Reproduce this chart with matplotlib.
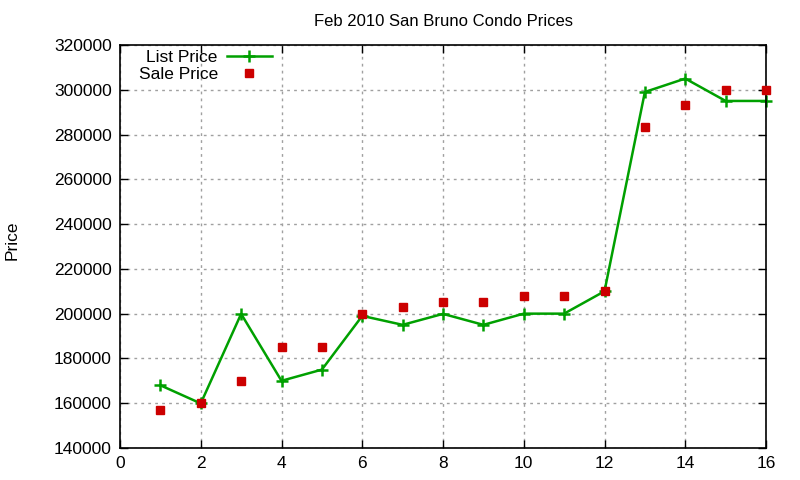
import matplotlib
matplotlib.use("Agg")
import matplotlib.pyplot as plt

plt.rcParams['font.family'] = ['Liberation Sans', 'DejaVu Sans']

# data
listings = [1, 2, 3, 4, 5, 6, 7, 8, 9, 10, 11, 12, 13, 14, 15, 16]
list_price = [168000, 159900, 199900, 170000, 175000, 199000, 195000, 199900,
              195000, 200000, 200000, 210000, 299000, 305000, 295000, 295000]
sale_price = [157000, 160000, 170000, 185000, 185000, 200000, 203000, 205000,
              205000, 208000, 208000, 210000, 283500, 293000, 300000, 300000]
xticks = list(range(0, 17, 2))
yticks = list(range(140000, 320001, 20000))

fig = plt.figure(figsize=(8, 4.8), dpi=100)
ax = fig.add_axes([0.15, 0.0667, 0.8075, 0.8396])

ax.plot(listings, list_price, color='#00a000', lw=1.8, marker='+', ms=8,
        mew=1.8, label='List Price', clip_on=False)
ax.plot(listings, sale_price, ls='none', marker='s', ms=6, color='#cc0000',
        label='Sale Price', clip_on=False, zorder=3)

ax.set_xlim(0, 16)
ax.set_ylim(140000, 320000)
ax.set_xticks(xticks)
ax.set_yticks(yticks)
ax.tick_params(direction='in', top=True, right=True, labelsize=12.5, length=6,
               width=1, pad=6)
ax.grid(True, ls=(0, (2, 3)), color='#a0a0a0', lw=1)
for s in ax.spines.values():
    s.set_linewidth(1.2)

ax.set_title('Feb 2010 San Bruno Condo Prices', fontsize=12, pad=14)
fig.text(0.015, 0.5, 'Price', rotation=90, va='center', ha='center', fontsize=12.5)

ax.legend(loc='upper left', bbox_to_anchor=(0.01, 1.018), frameon=False,
          markerfirst=False, fontsize=12.5, handlelength=2.6, handletextpad=0.5,
          labelspacing=0.1, borderaxespad=0.3)

fig.savefig('out.png', dpi=100)
